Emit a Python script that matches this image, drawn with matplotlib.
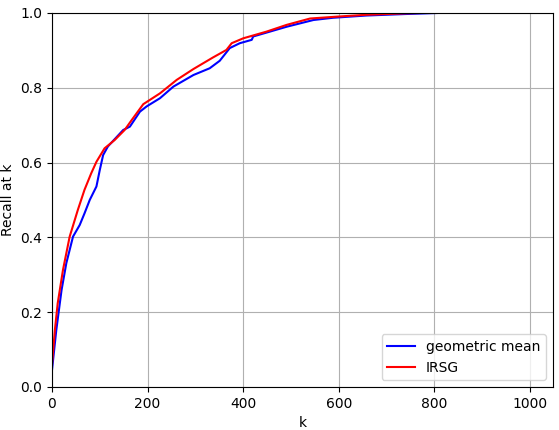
import matplotlib
matplotlib.use("Agg")
import matplotlib.pyplot as plt

# recall-at-k curves
k_geo = [0, 9, 20, 30, 44, 58, 68, 79, 93, 100, 107, 117, 149, 163, 184, 198,
         226, 254, 296, 330, 351, 372, 393, 418, 421, 456, 491, 547, 588, 658,
         740, 812, 998]
r_geo = [0.045, 0.152, 0.259, 0.331, 0.402, 0.433, 0.464, 0.5, 0.536, 0.58,
         0.62, 0.643, 0.687, 0.696, 0.736, 0.750, 0.772, 0.803, 0.834, 0.852,
         0.872, 0.906, 0.919, 0.928, 0.937, 0.950, 0.963, 0.981, 0.987, 0.993,
         0.997, 1.0, 1.0]

k_irsg = [0, 6, 12, 23, 37, 54, 68, 82, 93, 110, 131, 152, 167, 191, 226, 261,
          296, 337, 365, 376, 400, 449, 491, 540, 596, 658, 700, 742, 780, 998]
r_irsg = [0.06, 0.152, 0.224, 0.313, 0.402, 0.473, 0.527, 0.571, 0.602, 0.638,
          0.660, 0.687, 0.714, 0.756, 0.785, 0.821, 0.850, 0.881, 0.901, 0.919,
          0.932, 0.950, 0.968, 0.985, 0.990, 0.995, 0.997, 0.999, 1.0, 1.0]

fig = plt.figure(figsize=(5.59, 4.3), dpi=100)
fig.subplots_adjust(left=0.093, right=0.989, top=0.970, bottom=0.100)
ax = fig.add_subplot(111)

ax.plot(k_geo, r_geo, color='blue', label='geometric mean')
ax.plot(k_irsg, r_irsg, color='red', label='IRSG')

ax.set_xlim(0, 1048)
ax.set_ylim(0, 1.0)
ax.set_xlabel('k')
ax.set_ylabel('Recall at k')
ax.grid(True)
ax.legend(loc='lower right')

fig.savefig('out.png', dpi=100)
